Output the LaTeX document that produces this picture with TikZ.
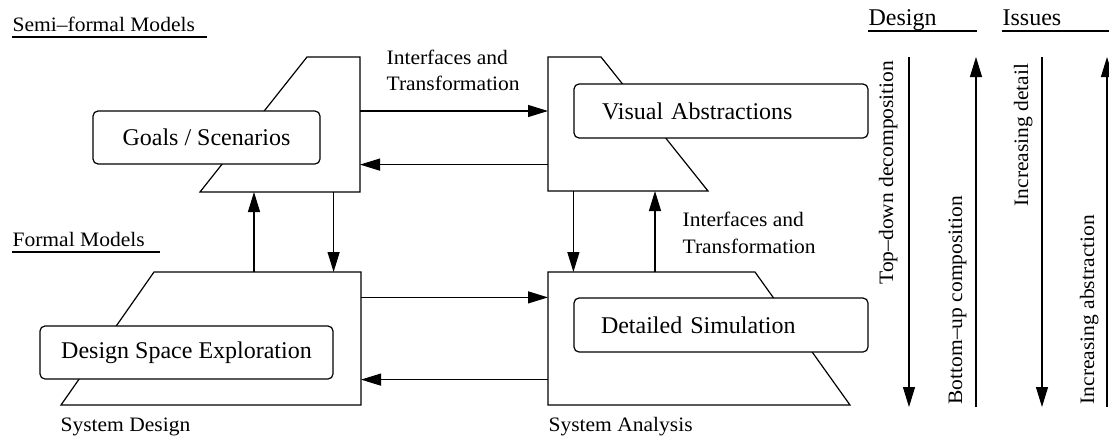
\documentclass[tikz,border=0pt]{standalone}
\usepackage{fontspec}
\setmainfont{Liberation Serif}
\newfontfamily\smallserif[FakeStretch=1.05]{Liberation Serif}
\usetikzlibrary{arrows.meta,calc}
\begin{document}
\begin{tikzpicture}[x=1pt,y=-1pt,line width=1.2pt,
  smalltxt/.style={font=\smallserif\fontsize{20.5}{26}\selectfont, inner sep=0pt},
  bigtxt/.style={font=\fontsize{24}{29}\selectfont},
  rbox/.style={draw, rounded corners=5pt, fill=white, bigtxt, inner sep=0pt},
  arr/.style={-{Triangle[length=20pt,width=12pt]}},
  frame/.style={inner sep=0pt, outer sep=0pt, draw=none, anchor=north west},
  uline/.style={line width=1.2pt}]
\useasboundingbox (0,0) rectangle (1109,442);
\fill[white] (0,0) rectangle (1109,442);

% trapezoid frames
\node[frame, minimum width=160pt, minimum height=135pt] (TL) at (200,57) {};
\node[frame, minimum width=160pt, minimum height=134pt] (TR) at (548,57) {};
\node[frame, minimum width=300pt, minimum height=133pt] (BL) at (61,272) {};
\node[frame, minimum width=302pt, minimum height=133pt] (BR) at (548,272) {};

\draw (TL.north east) -- (TL.south east) -- (TL.south west) -- ($(TL.north east)+(-53,0)$) -- cycle;
\draw (TR.north west) -- ($(TR.north west)+(53,0)$) -- (TR.south east) -- (TR.south west) -- cycle;
\draw (BL.north east) -- (BL.south east) -- (BL.south west) -- ($(BL.north east)+(-207,0)$) -- cycle;
\draw (BR.north west) -- ($(BR.north west)+(207,0)$) -- (BR.south east) -- (BR.south west) -- cycle;

% rounded boxes
\node[rbox, minimum width=227pt, minimum height=53pt] (GS) at (206.5,137.5) {Goals / Scenarios};
\node[rbox, minimum height=54pt, text width=238pt, inner xsep=28pt, align=left] (VA) at (721,111) {Visual Abstractions};
\node[rbox, minimum height=54pt, text width=240pt, inner xsep=27pt, align=left] (DS) at (721,325) {Detailed Simulation};
\node[rbox, minimum width=293pt, minimum height=53pt] (DSE) at (186.5,352.5) {Design Space Exploration};

% connectors
\coordinate (c1) at (254,0);
\coordinate (c2) at (655,0);
\draw[arr] (TL.east |- VA.center) -- (TR.west |- VA.center);
\draw[arr] (TR.west |- GS.south) -- (TL.east |- GS.south);
\draw[arr] (c1 |- BL.north) -- (c1 |- TL.south);
\draw[arr] (DSE.east |- TL.south) -- (DSE.east |- BL.north);
\draw[arr] (VA.west |- TR.south) -- (VA.west |- BR.north);
\draw[arr] (c2 |- BR.north) -- (c2 |- TR.south);
\draw[arr] (BL.east |- DS.north) -- (BR.west |- DS.north);
\draw[arr] (BR.west |- DSE.south) -- (BL.east |- DSE.south);

% labels
\node[smalltxt, anchor=base west] (semi) at (12,31) {Semi–formal Models};
\draw[uline] (12,37) -- (207,37);
\node[smalltxt, anchor=base west] (formal) at (12,246) {Formal Models};
\draw[uline] (12,252) -- (160,252);
\node[smalltxt, anchor=base west] (if1a) at (386,64) {Interfaces and};
\node[smalltxt, anchor=base west] (if1b) at (386,90) {Transformation};
\node[smalltxt, anchor=base west] (if2a) at (682,226) {Interfaces and};
\node[smalltxt, anchor=base west] (if2b) at (682,253) {Transformation};
\node[smalltxt, anchor=base west] (sd) at (60,431) {System Design};
\node[smalltxt, anchor=base west] (sa) at (548,431) {System Analysis};

% right panel
\node[bigtxt, inner sep=0pt, anchor=base west] (design) at (868,25) {Design};
\draw[uline] (868,31) -- (977,31);
\node[bigtxt, inner sep=0pt, anchor=base west] (issues) at (1002,25) {Issues};
\draw[uline] (1002,31) -- (1112,31);

\coordinate (a1t) at (909,57);  \coordinate (a1b) at (909,407);
\coordinate (a2t) at (976,57);  \coordinate (a2b) at (976,407);
\coordinate (a3t) at (1042,57); \coordinate (a3b) at (1042,407);
\coordinate (a4t) at (1107,57); \coordinate (a4b) at (1107,407);
\draw[arr] (a1t) -- (a1b);
\draw[arr] (a2b) -- (a2t);
\draw[arr] (a3t) -- (a3b);
\draw[arr] (a4b) -- (a4t);

\node[smalltxt, rotate=90, anchor=base east] (td) at (893,60) {Top–down decomposition};
\node[smalltxt, rotate=90, anchor=base west] (bu) at (962,405) {Bottom–up composition};
\node[smalltxt, rotate=90, anchor=base east] (idt) at (1028,63) {Increasing detail};
\node[smalltxt, rotate=90, anchor=base west] (ia) at (1094,405) {Increasing abstraction};
\end{tikzpicture}
\end{document}
